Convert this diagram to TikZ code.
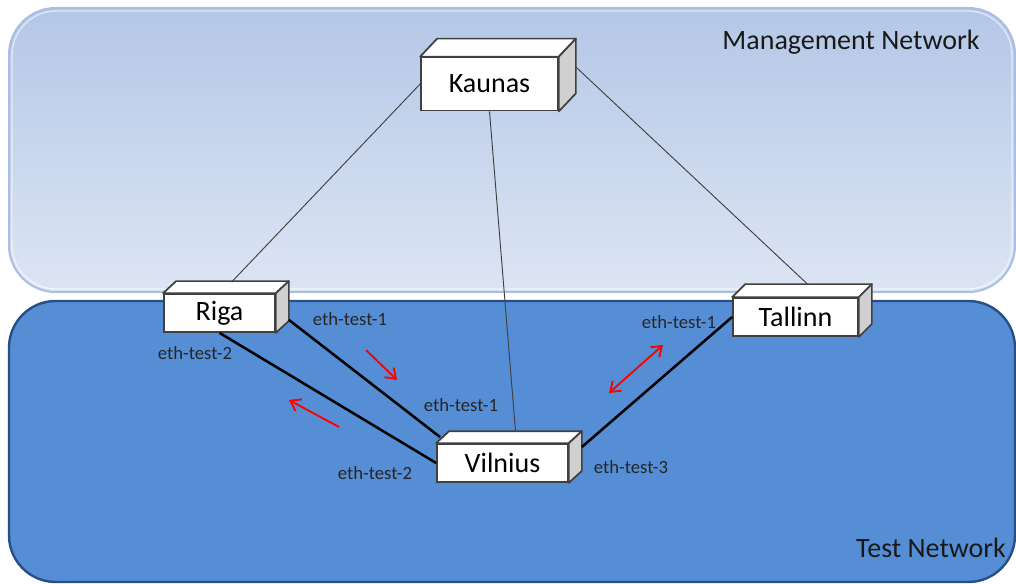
\documentclass[tikz,border=0pt]{standalone}
\usepackage{fontspec}
\setmainfont{Carlito}
\usetikzlibrary{arrows.meta}
\definecolor{mgmttop}{HTML}{B4C7E7}
\definecolor{mgmtbot}{HTML}{DDE5F3}
\definecolor{mgmtedge}{HTML}{A8BEE4}
\definecolor{testfill}{HTML}{558ED5}
\definecolor{testedge}{HTML}{274F87}
\definecolor{boxline}{HTML}{404040}
\definecolor{boxside}{HTML}{D0D0D0}
\tikzset{
  server/.style={draw=boxline, fill=white, line width=1.3pt, inner sep=0pt,
    font=\fontsize{21}{24}\selectfont},
  mgmtlink/.style={draw=boxline, line width=0.7pt},
  testlink/.style={draw=black, line width=1.9pt},
  port/.style={font=\fontsize{14}{16}\selectfont, text=black!85, inner sep=0pt},
  netname/.style={font=\fontsize{21}{24}\selectfont, text=black!90, inner sep=0pt},
  flow/.style={draw=red, line width=1.4pt, -{Straight Barb[length=7pt, width=10pt]}},
  twoflow/.style={flow, {Straight Barb[length=7pt, width=10pt]}-{Straight Barb[length=7pt, width=10pt]}}
}
\newcommand*{\BoxFaces}[1]{% #1 = list of node/dx/dy
  \foreach \name/\dx/\dy in {#1} {
    \draw [boxline, fill=white, line width=1.3pt, line join=round]
      (\name.north west) -- ++(\dx,-\dy) -- ([shift={(\dx,-\dy)}]\name.north east)
      -- (\name.north east) -- cycle;
    \draw [boxline, fill=boxside, line width=1.3pt, line join=round]
      (\name.north east) -- ++(\dx,-\dy) -- ([shift={(\dx,-\dy)}]\name.south east)
      -- (\name.south east) -- cycle;
  }%
}

\begin{document}
\begin{tikzpicture}[x=0.75pt, y=-0.75pt]
    \useasboundingbox (0,0) rectangle (1016,584);

    % networks
    \fill [top color=mgmttop, bottom color=mgmtbot, rounded corners=35]
      (9,8) rectangle (1015,292);
    \draw [mgmtedge, line width=1.5pt, rounded corners=35] (9,8) rectangle (1015,292);
    \draw [white, opacity=.6, line width=1pt, rounded corners=33] (12,11) rectangle (1012,289);
    \draw [fill=testfill, draw=testedge, line width=1.8pt, rounded corners=35]
      (9,301) rectangle (1015,582);

    \node [netname] (mgmt) at (851,42) {Management Network};
    \node [netname] (test) at (931,548) {Test Network};

    % machines
    \node [server, minimum width=102.75pt, minimum height=39.75pt] (kaunas) at (489.5,84) {Kaunas};
    \node [server, minimum width=83.25pt, minimum height=28.5pt] (riga) at (219.5,313) {Riga};
    \node [server, minimum width=98.25pt, minimum height=28.5pt] (vilnius) at (502.5,463) {Vilnius};
    \node [server, minimum width=93.75pt, minimum height=28.5pt] (tallinn) at (795.5,317) {Tallinn};

    \BoxFaces{kaunas/17/18, riga/13/12, vilnius/13/12, tallinn/13/13}

    % management links
    \draw [mgmtlink] (kaunas.west) -- ([shift={(12,-11)}]riga.north);
    \draw [mgmtlink] (kaunas.south) -- ([shift={(13,-12)}]vilnius.north);
    \draw [mgmtlink] ([shift={(17,-17)}]kaunas.east) -- ([shift={(12,-13)}]tallinn.north);

    % test links
    \draw [testlink] ([shift={(13,-13)}]riga.south east) -- ([shift={(4,-6)}]vilnius.north west);
    \draw [testlink] (riga.south) -- (vilnius.west);
    \draw [testlink] ([shift={(13,-16)}]vilnius.east) -- (tallinn.west);

    % ports
    \node [port] (rigaone) at (350,319) {eth-test-1};
    \node [port] (rigatwo) at (195,353) {eth-test-2};
    \node [port] (vilone) at (461,405) {eth-test-1};
    \node [port] (viltwo) at (375,473) {eth-test-2};
    \node [port] (vilthree) at (631,467) {eth-test-3};
    \node [port] (talone) at (679,322) {eth-test-1};

    % traffic
    \coordinate (fwdA) at (366,350);
    \coordinate (fwdB) at (397,380);
    \coordinate (backA) at (339,427);
    \coordinate (backB) at (289,400);
    \coordinate (bothA) at (609,393);
    \coordinate (bothB) at (663,345);
    \draw [flow] (fwdA) -- (fwdB);
    \draw [flow] (backA) -- (backB);
    \draw [twoflow] (bothA) -- (bothB);
\end{tikzpicture}
\end{document}
